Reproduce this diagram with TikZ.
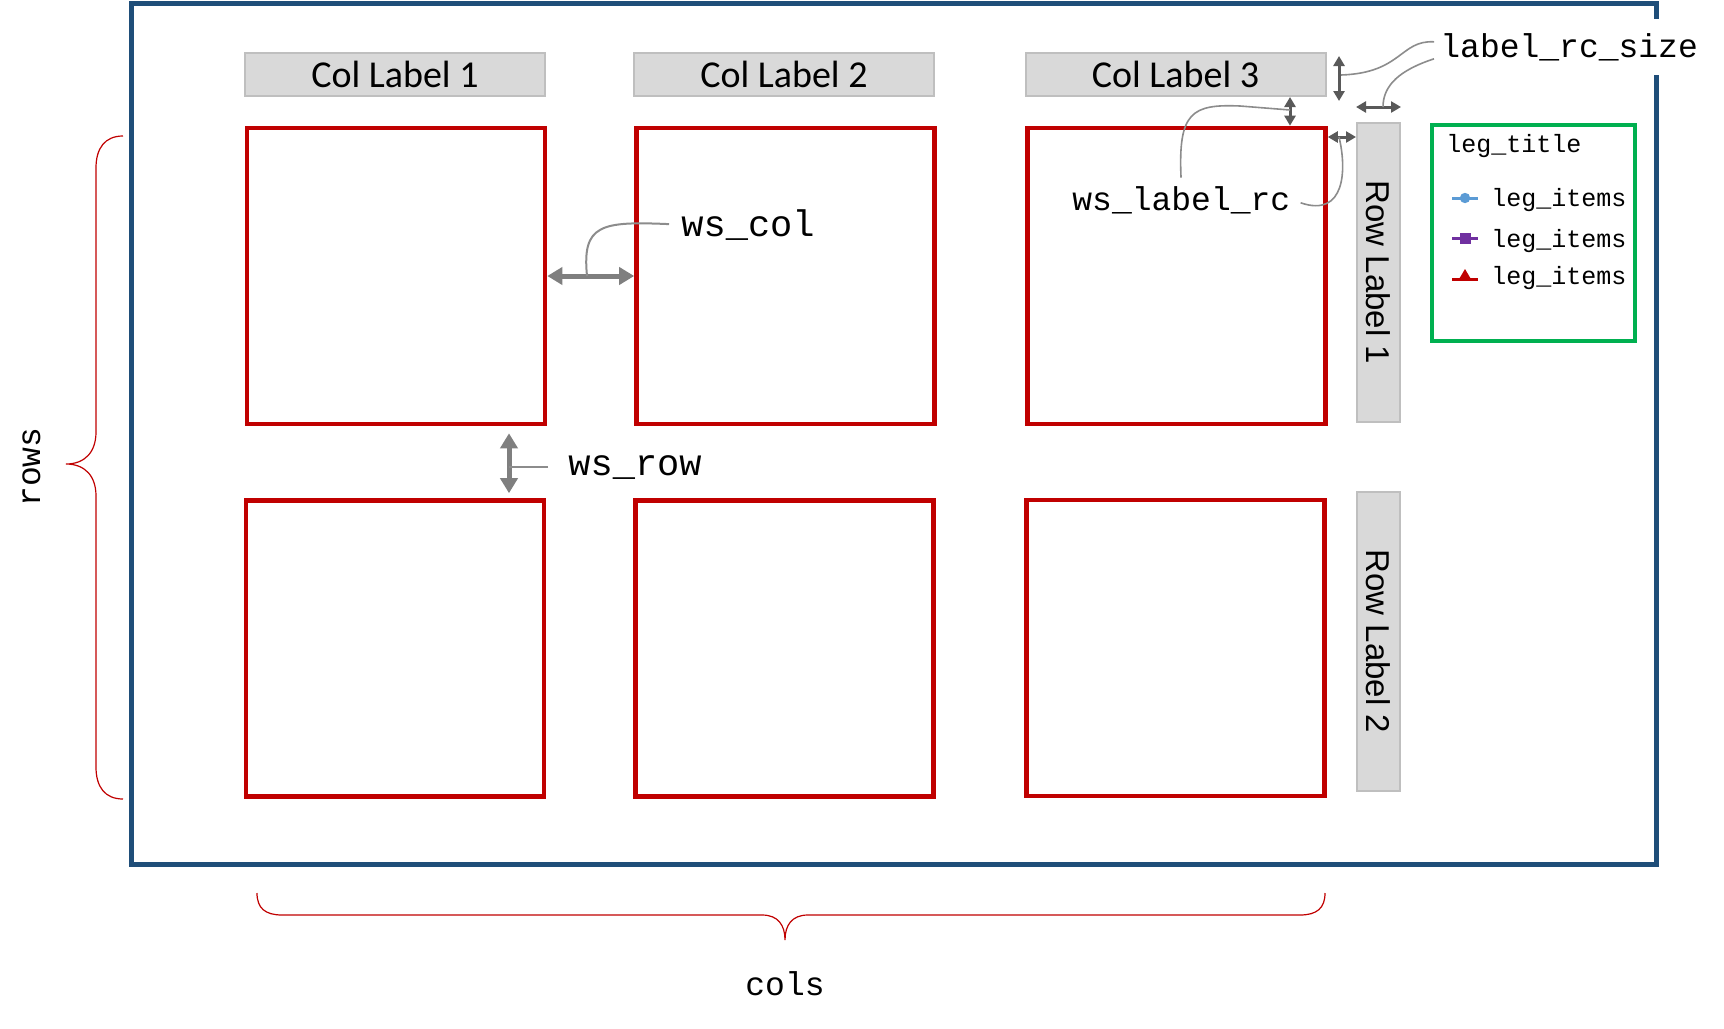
\documentclass[tikz,border=0pt]{standalone}
\usepackage{fontspec}
\setmainfont{Carlito}
\newfontfamily\rowfont{Liberation Sans}
\setmonofont{Liberation Mono}
\usetikzlibrary{arrows.meta,calc}
\definecolor{framblue}{HTML}{1F4E79}
\definecolor{panelred}{HTML}{C00000}
\definecolor{boxfill}{HTML}{D9D9D9}
\definecolor{boxgray}{HTML}{BFBFBF}
\definecolor{leggreen}{HTML}{00B050}
\definecolor{arrowgray}{HTML}{7F7F7F}
\definecolor{dimgray}{HTML}{595959}
\definecolor{linegray}{HTML}{8C8C8C}
\definecolor{legblue}{HTML}{5B9BD5}
\definecolor{legpurple}{HTML}{7030A0}

\begin{document}
\begin{tikzpicture}[
        x=0.5pt, y=-0.5pt,
        every node/.style={align=center},
        panel/.style={draw=panelred, line width=2.3pt,
        minimum width=149pt, minimum height=148pt},
        collabel/.style={draw=boxgray, fill=boxfill, line width=1pt, inner sep=0pt,
        minimum width=150pt, minimum height=21.5pt,
        font=\fontsize{19}{22}\selectfont},
        rowlabel/.style={draw=boxgray, fill=boxfill, line width=1pt, inner sep=0pt,
        minimum width=149.5pt, minimum height=21.5pt, rotate=-90,
        font=\rowfont\fontsize{16.5}{20}\selectfont},
        codebig/.style={inner sep=1pt, font=\ttfamily\fontsize{18.5}{20}\selectfont},
        codemid/.style={inner sep=1pt, font=\ttfamily\fontsize{16.5}{19}\selectfont},
        codesmall/.style={inner sep=1pt, font=\ttfamily\fontsize{12.5}{14}\selectfont},
        bigarrow/.style={draw=arrowgray, line width=2.5pt, <->,
        >={Triangle[length=7.5pt,width=8.5pt]}},
        dimarrow/.style={draw=dimgray, line width=1.5pt, <->,
        >={Triangle[length=5pt,width=5.5pt]}},
        callout/.style={draw=linegray, line width=0.8pt},
        bracket/.style={draw=panelred, line width=0.6pt}
      ]
    \useasboundingbox (0,0) rectangle (1724,1028);
    % outer figure
    \draw[framblue, line width=2.5pt] (131,3) rectangle (1656,864);

    % column labels
    \node[collabel] (c1) at (395,74.5) {Col Label 1};
    \node[collabel] (c2) at (784,74.5) {Col Label 2};
    \node[collabel] (c3) at (1175.5,74.5) {Col Label 3};

    % panels
    \node[panel] (p11) at (396,276) {};
    \node[panel] (p12) at (785.5,276) {};
    \node[panel] (p13) at (1176.5,276) {};
    \node[panel] (p21) at (395,648.5) {};
    \node[panel] (p22) at (784.5,648.5) {};
    \node[panel] (p23) at (1175.5,648) {};

    % row labels
    \node[rowlabel] (r1) at (1378.5,272.5) {Row Label 1};
    \node[rowlabel] (r2) at (1378.5,641.5) {Row Label 2};

    % legend
    \node[draw=leggreen, line width=2.3pt, minimum width=101.5pt,
    minimum height=108pt] (leg) at (1533.5,233) {};
    \node[codesmall, anchor=base west] (legtitle) at (1444,152) {leg\_title};
    \node[codesmall, anchor=base west] (leg1) at (1489,206) {leg\_items};
    \node[codesmall, anchor=base west] (leg2) at (1489,247) {leg\_items};
    \node[codesmall, anchor=base west] (leg3) at (1489,284) {leg\_items};
    \draw[legblue, line width=1.5pt] (1452,198) -- (1478,198);
    \fill[legblue] (1465,198) circle (2.6pt);
    \draw[legpurple, line width=1.5pt] (1452,238) -- (1478,238);
    \fill[legpurple] (1459.5,232.5) rectangle (1470.5,243.5);
    \draw[panelred, line width=1.5pt] (1452,279) -- (1478,279);
    \fill[panelred] (1465,269) -- (1471.5,280) -- (1458.5,280) -- cycle;

    % spacing labels
    \node[codebig, anchor=base west] (wscol) at (679,236) {ws\_col};
    \node[codebig, anchor=base west] (wsrow) at (566,475) {ws\_row};
    \node[codemid, anchor=base west] (wslab) at (1070,210) {ws\_label\_rc};
    \node[codemid, anchor=base west, fill=white, inner ysep=7pt]
    (lrcsize) at (1438,57) {label\_rc\_size};

    \coordinate (colpt) at (587,276);
    \coordinate (rowpt) at (509,463);
    \coordinate (szA) at (1339,56);
    \coordinate (szB) at (1339,101);
    \coordinate (szv) at (1341,75);
    \coordinate (szh) at (1383,107);
    \coordinate (wsv) at (1290,110);
    \coordinate (wsh) at (1339,137);

    \draw[bigarrow] (p11.east) -- (p12.west);
    \draw[bigarrow, shorten <=3.5pt, shorten >=2.5pt]
    (p11.south -| rowpt) -- (p21.north -| rowpt);
    \draw[dimarrow] (szA) -- (szB);
    \draw[dimarrow] (r1.south |- szh) -- (r1.north |- szh);
    \draw[dimarrow] (c3.south -| wsv) -- (p13.north -| wsv);
    \draw[dimarrow] (p13.east |- wsh) -- (r1.south |- wsh);

    \draw[callout, line width=1pt, shorten <=5pt] (wscol.west)
    .. controls (600,221) and (582,225) .. (colpt);
    \draw[callout, line width=0.6pt, shorten <=9pt]
    (wsrow.west) -- (wsrow.west -| rowpt);
    \draw[callout, shorten <=3pt] (wslab.north)
    .. controls (1178,112) and (1192,104) .. (1240,106) -- (wsv);
    \draw[callout] ($(wslab.east)+(8,3)$)
    .. controls (1345,218) and (1347,170) .. (wsh);
    \draw[callout] ($(lrcsize.west)+(-4,-5)$)
    .. controls (1400,40) and (1402,73) .. (szv);
    \draw[callout] ($(lrcsize.west)+(-4,12)$)
    .. controls (1400,70) and (1383,85) .. (szh);

    % braces
    \draw[bracket] (123,136) .. controls (105,136) and (96,148) .. (96,168)
    -- (96,432) .. controls (96,452) and (85,464) .. (66,464)
    .. controls (85,464) and (96,476) .. (96,496)
    -- (96,767) .. controls (96,787) and (105,799) .. (123,799);
    \draw[bracket] (257,893) .. controls (257,908) and (265,915) .. (282,915)
    -- (762,915) .. controls (778,915) and (785,925) .. (785,940)
    .. controls (785,925) and (792,915) .. (808,915)
    -- (1300,915) .. controls (1317,915) and (1325,908) .. (1325,893);
    \node[codemid, rotate=90, anchor=base] (rowstext) at (40,467) {rows};
    \node[codemid, anchor=base] (colstext) at (785,995) {cols};
      \end{tikzpicture}
\end{document}
